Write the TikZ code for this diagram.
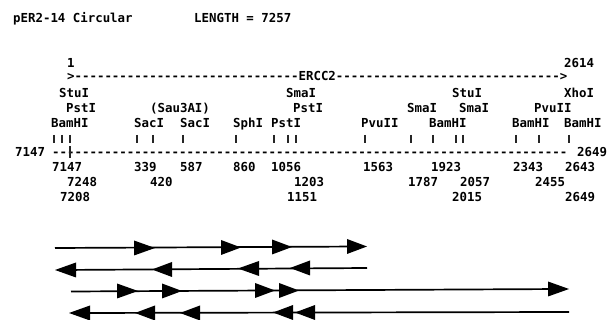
\documentclass[tikz,border=0pt]{standalone}
\usepackage{fontspec}
\newfontfamily\printfont{DejaVu Sans Mono}
\tikzset{
  lbl/.style={anchor=west,inner sep=0pt,font=\printfont\bfseries\fontsize{12.4}{12.4}\selectfont,text height=9pt,text depth=0pt},
  tick/.style={line width=1.2pt,black!85},
  strand/.style={line width=1.7pt,black}
}
\newcommand{\hr}[3]{\fill (#1,#3-7.5) -- (#2,#3) -- (#1,#3+7.5) -- cycle;}
\newcommand{\hl}[3]{\fill (#1,#3) -- (#2,#3-7.5) -- (#2,#3+7.5) -- cycle;}
\begin{document}
\begin{tikzpicture}[x=1pt,y=-1pt]
\useasboundingbox (0,0) rectangle (608,320);
\fill[white] (0,0) rectangle (608,320);
\foreach \n/\x/\y/\s in {
 a1/13/18.5/{pER2-14 Circular}, a2/194/18.5/{LENGTH = 7257},
 b1/67/63.5/{1}, b2/564/63.5/{2614},
 c1/59/93.5/{StuI}, c2/286/93.5/{SmaI}, c3/452/93.5/{StuI}, c4/564/93.5/{XhoI},
 d1/66/108.5/{PstI}, d2/150/108.5/{(Sau3AI)}, d3/293/108.5/{PstI}, d4/407/108.5/{SmaI}, d5/459/108.5/{SmaI}, d6/534/108.5/{PvuII},
 e1/51/123.5/{BamHI}, e2/134/123.5/{SacI}, e3/180/123.5/{SacI}, e4/233/123.5/{SphI}, e5/271/123.5/{PstI}, e6/361/123.5/{PvuII}, e7/429/123.5/{BamHI}, e8/512/123.5/{BamHI}, e9/564/123.5/{BamHI},
 f1/15/152.5/{7147}, f2/577/152.5/{2649},
 g1/52/167.5/{7147}, g2/134/167.5/{339}, g3/180/167.5/{587}, g4/233/167.5/{860}, g5/271/167.5/{1056}, g6/363/167.5/{1563}, g7/431/167.5/{1923}, g8/513/167.5/{2343}, g9/565/167.5/{2643},
 h1/67/182.5/{7248}, h2/150/182.5/{420}, h3/294/182.5/{1203}, h4/408/182.5/{1787}, h5/460/182.5/{2057}, h6/535/182.5/{2455},
 i1/60/197.5/{7208}, i2/287/197.5/{1151}, i3/452/197.5/{2015}, i4/565/197.5/{2649}}
 {\node[lbl,name=\n] at (\x,\y) {\s};}
\node[lbl,name=gene] at (67,76.5) {>------------------------------ERCC2------------------------------>};
\node[lbl,name=ruler] at (52,152.5) {---------------------------------------------------------------------};
\foreach \x in {54,62,70,137,153,183,236,274,288,296,365,411,433,456,463,516,539,569}
  \draw[tick] (\x,135) -- (\x,143);
\draw[tick] (70,146) -- (70,158);
% strands
\draw[strand] (55,248) -- (360,246.5);
\hr{134}{155}{248}\hr{221}{241}{247.5}\hr{272}{292}{247}\hr{347}{367}{246.5}
\draw[strand] (62,270) -- (367,268);
\hl{55}{76}{270}\hl{152}{172}{269.5}\hl{238}{259}{268.5}\hl{290}{310}{268}
\draw[strand] (71,291.5) -- (562,289);
\hr{117}{138}{291}\hr{162}{182}{291}\hr{255}{275}{290.5}\hr{279}{299}{290.5}\hr{548}{569}{289}
\draw[strand] (76,313) -- (569,312);
\hl{69}{90}{313}\hl{135}{155}{313}\hl{180}{200}{313}\hl{273}{293}{312.5}\hl{295}{315}{312.5}
\end{tikzpicture}
\end{document}
